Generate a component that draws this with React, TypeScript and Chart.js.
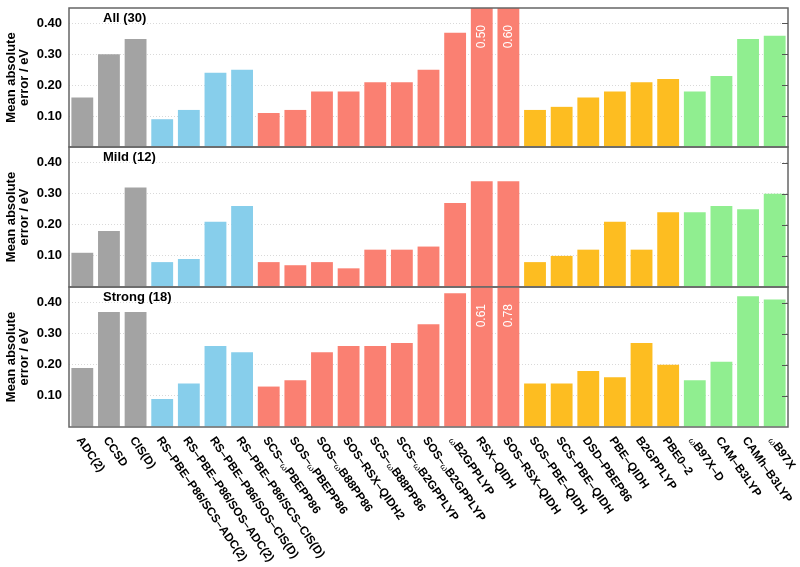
import React, { useEffect, useRef } from 'react';
import { Chart, registerables } from 'chart.js';

Chart.register(...registerables);

// ---------- data ----------
const methods: string[] = [
  'ADC(2)', 'CCSD', 'CIS(D)',
  'RS–PBE–P86/SCS–ADC(2)', 'RS–PBE–P86/SOS–ADC(2)', 'RS–PBE–P86/SOS–CIS(D)', 'RS–PBE–P86/SCS–CIS(D)',
  'SCS–ωPBEPP86', 'SOS–ωPBEPP86', 'SOS–ωB88PP86', 'SOS–RSX–QIDH2', 'SCS–ωB88PP86',
  'SCS–ωB2GPPLYP', 'SOS–ωB2GPPLYP', 'ωB2GPPLYP', 'RSX–QIDH', 'SOS–RSX–QIDH',
  'SOS–PBE–QIDH', 'SCS–PBE–QIDH', 'DSD–PBEP86', 'PBE–QIDH', 'B2GPPLYP', 'PBE0–2',
  'ωB97X–D', 'CAM–B3LYP', 'CAMh–B3LYP', 'ωB97X',
];

const methodFamily: string[] = [
  'WFT', 'WFT', 'WFT',
  'RSDH', 'RSDH', 'RSDH', 'RSDH',
  'RSDHX', 'RSDHX', 'RSDHX', 'RSDHX', 'RSDHX', 'RSDHX', 'RSDHX', 'RSDHX', 'RSDHX', 'RSDHX',
  'DH', 'DH', 'DH', 'DH', 'DH', 'DH',
  'RSH', 'RSH', 'RSH', 'RSH',
];

const allValues: number[] = [
  0.16, 0.30, 0.35,
  0.09, 0.12, 0.24, 0.25,
  0.11, 0.12, 0.18, 0.18, 0.21, 0.21, 0.25, 0.37, 0.50, 0.60,
  0.12, 0.13, 0.16, 0.18, 0.21, 0.22,
  0.18, 0.23, 0.35, 0.36,
];

const mildValues: number[] = [
  0.11, 0.18, 0.32,
  0.08, 0.09, 0.21, 0.26,
  0.08, 0.07, 0.08, 0.06, 0.12, 0.12, 0.13, 0.27, 0.34, 0.34,
  0.08, 0.10, 0.12, 0.21, 0.12, 0.24,
  0.24, 0.26, 0.25, 0.30,
];

const strongValues: number[] = [
  0.19, 0.37, 0.37,
  0.09, 0.14, 0.26, 0.24,
  0.13, 0.15, 0.24, 0.26, 0.26, 0.27, 0.33, 0.43, 0.61, 0.78,
  0.14, 0.14, 0.18, 0.16, 0.27, 0.20,
  0.15, 0.21, 0.42, 0.41,
];

const panelLabels: string[] = ['All (30)', 'Mild (12)', 'Strong (18)'];
const yTickValues: number[] = [0.1, 0.2, 0.3, 0.4];
const yMax = 0.45;
const yTitle: string[] = ['Mean absolute', 'error / eV'];

// ---------- styles ----------
const FONT = '"Liberation Sans", Arial, Helvetica, sans-serif';
const familyColors: Record<string, string> = {
  WFT: '#a3a3a3',
  RSDH: '#87ceeb',
  RSDHX: '#fa8072',
  DH: '#fdbd21',
  RSH: '#90ee90',
};
const LABEL_ANGLE = (55 * Math.PI) / 180;

function drawRichLabel(ctx: CanvasRenderingContext2D, text: string) {
  const parts = text.split('ω');
  let x = 0;
  parts.forEach((p, idx) => {
    if (idx > 0) {
      ctx.font = `9px ${FONT}`;
      ctx.fillText('ω', x, 1);
      x += ctx.measureText('ω').width;
    }
    ctx.font = `bold 11.8px ${FONT}`;
    ctx.fillText(p, x, 0);
    x += ctx.measureText(p).width;
  });
}

function makeDecorPlugin(label: string, values: number[], showX: boolean) {
  return {
    id: 'panelDecor',
    afterDatasetsDraw(chart: any) {
      const ctx: CanvasRenderingContext2D = chart.ctx;
      const a = chart.chartArea;
      const meta = chart.getDatasetMeta(0);
      ctx.save();
      ctx.fillStyle = '#ffffff';
      ctx.font = `12px ${FONT}`;
      ctx.textAlign = 'right';
      ctx.textBaseline = 'middle';
      values.forEach((v, i) => {
        if (v > yMax) {
          const bar = meta.data[i];
          ctx.save();
          ctx.translate(bar.x, a.top + 17);
          ctx.rotate(-Math.PI / 2);
          ctx.fillText(v.toFixed(2), 0, 0);
          ctx.restore();
        }
      });
      ctx.restore();
    },
    afterDraw(chart: any) {
      const ctx: CanvasRenderingContext2D = chart.ctx;
      const a = chart.chartArea;
      const yScale = chart.scales.y;
      const xScale = chart.scales.x;
      ctx.save();
      // box
      ctx.strokeStyle = '#666';
      ctx.lineWidth = 1.5;
      ctx.strokeRect(a.left, a.top, a.right - a.left, a.bottom - a.top);
      // inward ticks on right
      ctx.lineWidth = 1;
      ctx.strokeStyle = '#555';
      yTickValues.forEach((t) => {
        const y = Math.round(yScale.getPixelForValue(t)) + 0.5;
        ctx.beginPath();
        ctx.moveTo(a.right - 6, y);
        ctx.lineTo(a.right, y);
        ctx.stroke();
      });
      // panel label
      ctx.fillStyle = '#000';
      ctx.font = `bold 13px ${FONT}`;
      ctx.textAlign = 'left';
      ctx.textBaseline = 'middle';
      ctx.fillText(label, a.left + 34, a.top + 10);
      // x labels
      if (showX) {
        ctx.textAlign = 'left';
        ctx.textBaseline = 'alphabetic';
        methods.forEach((m, i) => {
          const x = xScale.getPixelForValue(i);
          ctx.save();
          ctx.translate(x - 6, a.bottom + 13);
          ctx.rotate(LABEL_ANGLE);
          drawRichLabel(ctx, m);
          ctx.restore();
        });
      }
      ctx.restore();
    },
  };
}

function makeConfig(values: number[], label: string, showX: boolean, padTop: number, padBottom: number): any {
  return {
    type: 'bar',
    data: {
      labels: methods,
      datasets: [
        {
          data: values,
          backgroundColor: methods.map((_, i) => familyColors[methodFamily[i]]),
          borderWidth: 0,
          barPercentage: 0.82,
          categoryPercentage: 1,
        },
      ],
    },
    options: {
      animation: false,
      responsive: false,
      maintainAspectRatio: false,
      layout: { padding: { left: 0, right: 12, top: padTop, bottom: padBottom } },
      plugins: { legend: { display: false }, tooltip: { enabled: false } },
      scales: {
        x: { display: false },
        y: {
          min: 0,
          max: yMax,
          afterFit: (s: any) => {
            s.width = 69;
            s.paddingTop = 0;
            s.paddingBottom = 0;
          },
          ticks: {
            stepSize: 0.1,
            includeBounds: false,
            padding: 7,
            color: '#000',
            font: { family: FONT, size: 13, weight: 'bold' },
            callback: (v: any) => (Math.abs(v) < 1e-9 ? '' : Number(v).toFixed(2)),
          },
          grid: {
            drawTicks: false,
            color: (c: any) => (Math.abs(c.tick?.value ?? 0) < 1e-9 ? 'rgba(0,0,0,0)' : '#d9d9d9'),
            lineWidth: 1,
          },
          border: { display: false, dash: [1, 2] },
          title: {
            display: true,
            text: yTitle,
            color: '#000',
            font: { family: FONT, size: 13, weight: 'bold', lineHeight: 1.0 },
            padding: { top: 5, bottom: 0 },
          },
        },
      },
    },
    plugins: [makeDecorPlugin(label, values, showX)],
  };
}

function Panel(props: { values: number[]; label: string; showX: boolean; top: number; height: number; padTop: number; padBottom: number }) {
  const ref = useRef<HTMLCanvasElement | null>(null);
  useEffect(() => {
    if (!ref.current) return;
    const chart = new Chart(ref.current, makeConfig(props.values, props.label, props.showX, props.padTop, props.padBottom));
    return () => chart.destroy();
  }, []);
  return (
    <div style={{ position: 'absolute', left: 0, top: props.top, width: 800, height: props.height }}>
      <canvas ref={ref} width={800} height={props.height} style={{ display: 'block' }} />
    </div>
  );
}

export default function App() {
  return (
    <div style={{ position: 'absolute', left: 0, top: 0, width: 800, height: 567, background: '#fff', overflow: 'hidden' }}>
      <Panel values={allValues} label={panelLabels[0]} showX={false} top={0} height={152} padTop={8} padBottom={5} />
      <Panel values={mildValues} label={panelLabels[1]} showX={false} top={142} height={150} padTop={5} padBottom={5} />
      <Panel values={strongValues} label={panelLabels[2]} showX={true} top={282} height={285} padTop={5} padBottom={140} />
    </div>
  );
}
